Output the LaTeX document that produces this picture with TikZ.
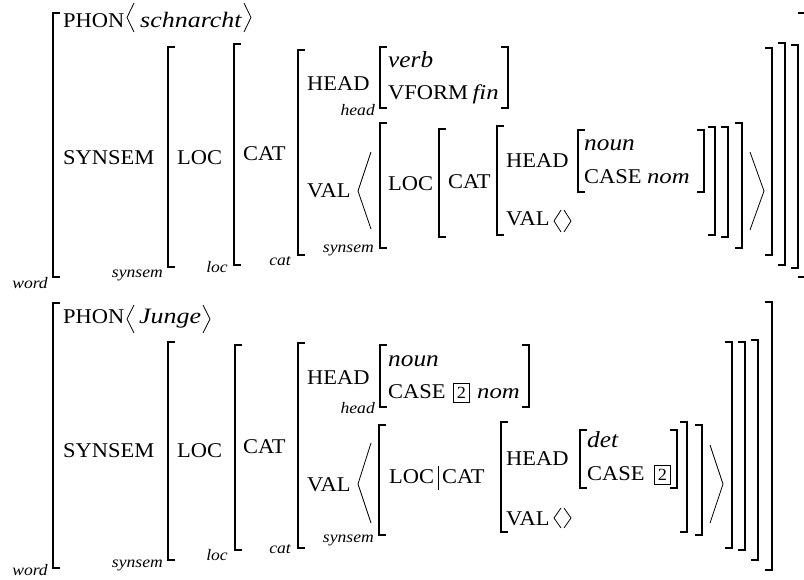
\documentclass[tikz,border=0pt]{standalone}
\usepackage{fontspec}
\setmainfont{Liberation Serif}
\newfontfamily\rmA{Liberation Serif}[FakeStretch=1.07]
\newfontfamily\itA{Liberation Serif}[FakeStretch=1.18]
\newfontfamily\itB{Liberation Serif}[FakeStretch=1.1]
\newcommand\avmL[3]{\draw[brk] ({#1+7},#2) -- (#1,#2) -- (#1,#3) -- ({#1+7},#3);}
\newcommand\avmR[3]{\draw[brk] ({#1-7},#2) -- (#1,#2) -- (#1,#3) -- ({#1-7},#3);}
\tikzset{
 attr/.style={anchor=base west, inner sep=0pt, font=\rmA\fontsize{21}{24}\selectfont},
 val/.style={anchor=base west, inner sep=0pt, font=\itA\itshape\fontsize{21}{24}\selectfont},
 typ/.style={anchor=base west, inner sep=0pt, font=\itB\itshape\fontsize{23}{28}\selectfont},
 phon/.style={anchor=base west, inner sep=0pt, font=\itA\itshape\fontsize{22}{25}\selectfont},
 lab/.style={anchor=base east, inner sep=0pt, font=\itB\itshape\fontsize{16}{18}\selectfont},
 brk/.style={line width=1.5pt, line join=miter},
 ang/.style={line width=0.8pt, line join=miter},
 tagbox/.style={draw, line width=0.6pt, inner sep=0pt, minimum width=16pt, minimum height=19pt, font=\rmA\fontsize{17}{19}\selectfont},
}
\begin{document}
\begin{tikzpicture}[x=1pt,y=-1pt]
\useasboundingbox[fill=white] (0,0) rectangle (804,579);
% ================= TOP: schnarcht =================
\avmL{53}{13}{277} \avmR{805}{13}{277}
\node[lab] (wA) at (48,288) {word};
\node[attr] (phonA) at (63,27) {PHON};
\draw[ang] (134,3) -- (127,17.5) -- (134,32);
\node[phon] (schA) at (140,27) {schnarcht};
\draw[ang] (244,3) -- (251,17.5) -- (244,32);
\node[attr] (ssA) at (63,164) {SYNSEM};
\avmL{168}{47}{267} \avmR{798}{45}{268}
\node[lab] (lssA) at (163,277) {synsem};
\node[attr] (locA) at (177,164) {LOC};
\avmL{234}{44}{265} \avmR{785}{43}{265}
\node[lab] (llocA) at (228,272) {loc};
\node[attr] (catA) at (243,160) {CAT};
\avmL{298}{50}{255} \avmR{772}{48}{255}
\node[lab] (lcatA) at (291,265) {cat};
\node[attr] (headA) at (307,90) {HEAD};
\avmL{380}{47}{108} \avmR{508}{47}{108}
\node[lab] (lheadA) at (375,115) {head};
\node[typ] (verbA) at (388,67) {verb};
\node[attr] (vformA) at (388,99) {VFORM};
\node[val] (finA) at ([xshift=4pt]vformA.base east) {fin};
\node[attr] (valA) at (307,197) {VAL};
\draw[ang] (371,152) -- (358,191) -- (371,229);
\avmL{380}{123}{248} \avmR{742}{123}{248}
\node[lab] (lssA2) at (374,252) {synsem};
\node[attr] (locA2) at (388,190) {LOC};
\avmL{439}{129}{237} \avmR{728}{127}{237}
\node[attr] (catA2) at (448,188) {CAT};
\avmL{497}{126}{235} \avmR{715}{127}{235}
\node[attr] (headA2) at (506,167) {HEAD};
\avmL{578}{130}{192} \avmR{704}{130}{192}
\node[typ] (nounA) at (584,150) {noun};
\node[attr] (caseA) at (584,183) {CASE};
\node[val] (nomA) at ([xshift=5pt]caseA.base east) {nom};
\node[attr] (valA2) at (506,225) {VAL};
\draw[ang] (561,210) -- (554,221) -- (561,232);
\draw[ang] (564,210) -- (571,221) -- (564,232);
\draw[ang] (750,152) -- (764,191) -- (750,230);
% ================= BOTTOM: Junge =================
\avmL{53}{303}{568} \avmR{772}{302}{570}
\node[lab] (wB) at (48,575) {word};
\node[attr] (phonB) at (63,323) {PHON};
\draw[ang] (134,305) -- (127,319) -- (134,333);
\node[phon] (jungeB) at (139,323) {Junge};
\draw[ang] (203,305) -- (210,319) -- (203,333);
\node[attr] (ssB) at (63,457) {SYNSEM};
\avmL{168}{342}{560} \avmR{758}{340}{560}
\node[lab] (lssB) at (163,567) {synsem};
\node[attr] (locB) at (177,457) {LOC};
\avmL{235}{345}{550} \avmR{745}{342}{550}
\node[lab] (llocB) at (228,560) {loc};
\node[attr] (catB) at (243,453) {CAT};
\avmL{298}{343}{548} \avmR{732}{342}{548}
\node[lab] (lcatB) at (291,553) {cat};
\node[attr] (headB) at (307,384) {HEAD};
\avmL{380}{345}{407} \avmR{529}{345}{407}
\node[lab] (lheadB) at (375,413) {head};
\node[typ] (nounB) at (388,366) {noun};
\node[attr] (caseB) at (388,398) {CASE};
\node[tagbox] (tagB) at (461.5,393) {2};
\node[val] (nomB) at (477,398) {nom};
\node[attr] (valB) at (307,491) {VAL};
\draw[ang] (371,443) -- (358,484) -- (371,523);
\avmL{379}{425}{535} \avmR{702}{425}{535}
\node[lab] (lssB2) at (374,542) {synsem};
\node[attr] (locB2) at (389,483) {LOC};
\draw[line width=0.6pt] (438,466) -- (438,490);
\node[attr] (catB2) at (442,483) {CAT};
\avmL{501}{422}{532} \avmR{687}{422}{532}
\node[attr] (headB2) at (506,465) {HEAD};
\avmL{580}{430}{488} \avmR{677}{430}{488}
\node[typ] (detB) at (587,447) {det};
\node[attr] (caseB2) at (587,480) {CASE};
\node[tagbox] (tagB2) at (662.5,475) {2};
\node[attr] (valB2) at (506,525) {VAL};
\draw[ang] (561,508) -- (554,518) -- (561,528);
\draw[ang] (564,508) -- (571,518) -- (564,528);
\draw[ang] (710,445) -- (723,484) -- (710,523);
\end{tikzpicture}
\end{document}
